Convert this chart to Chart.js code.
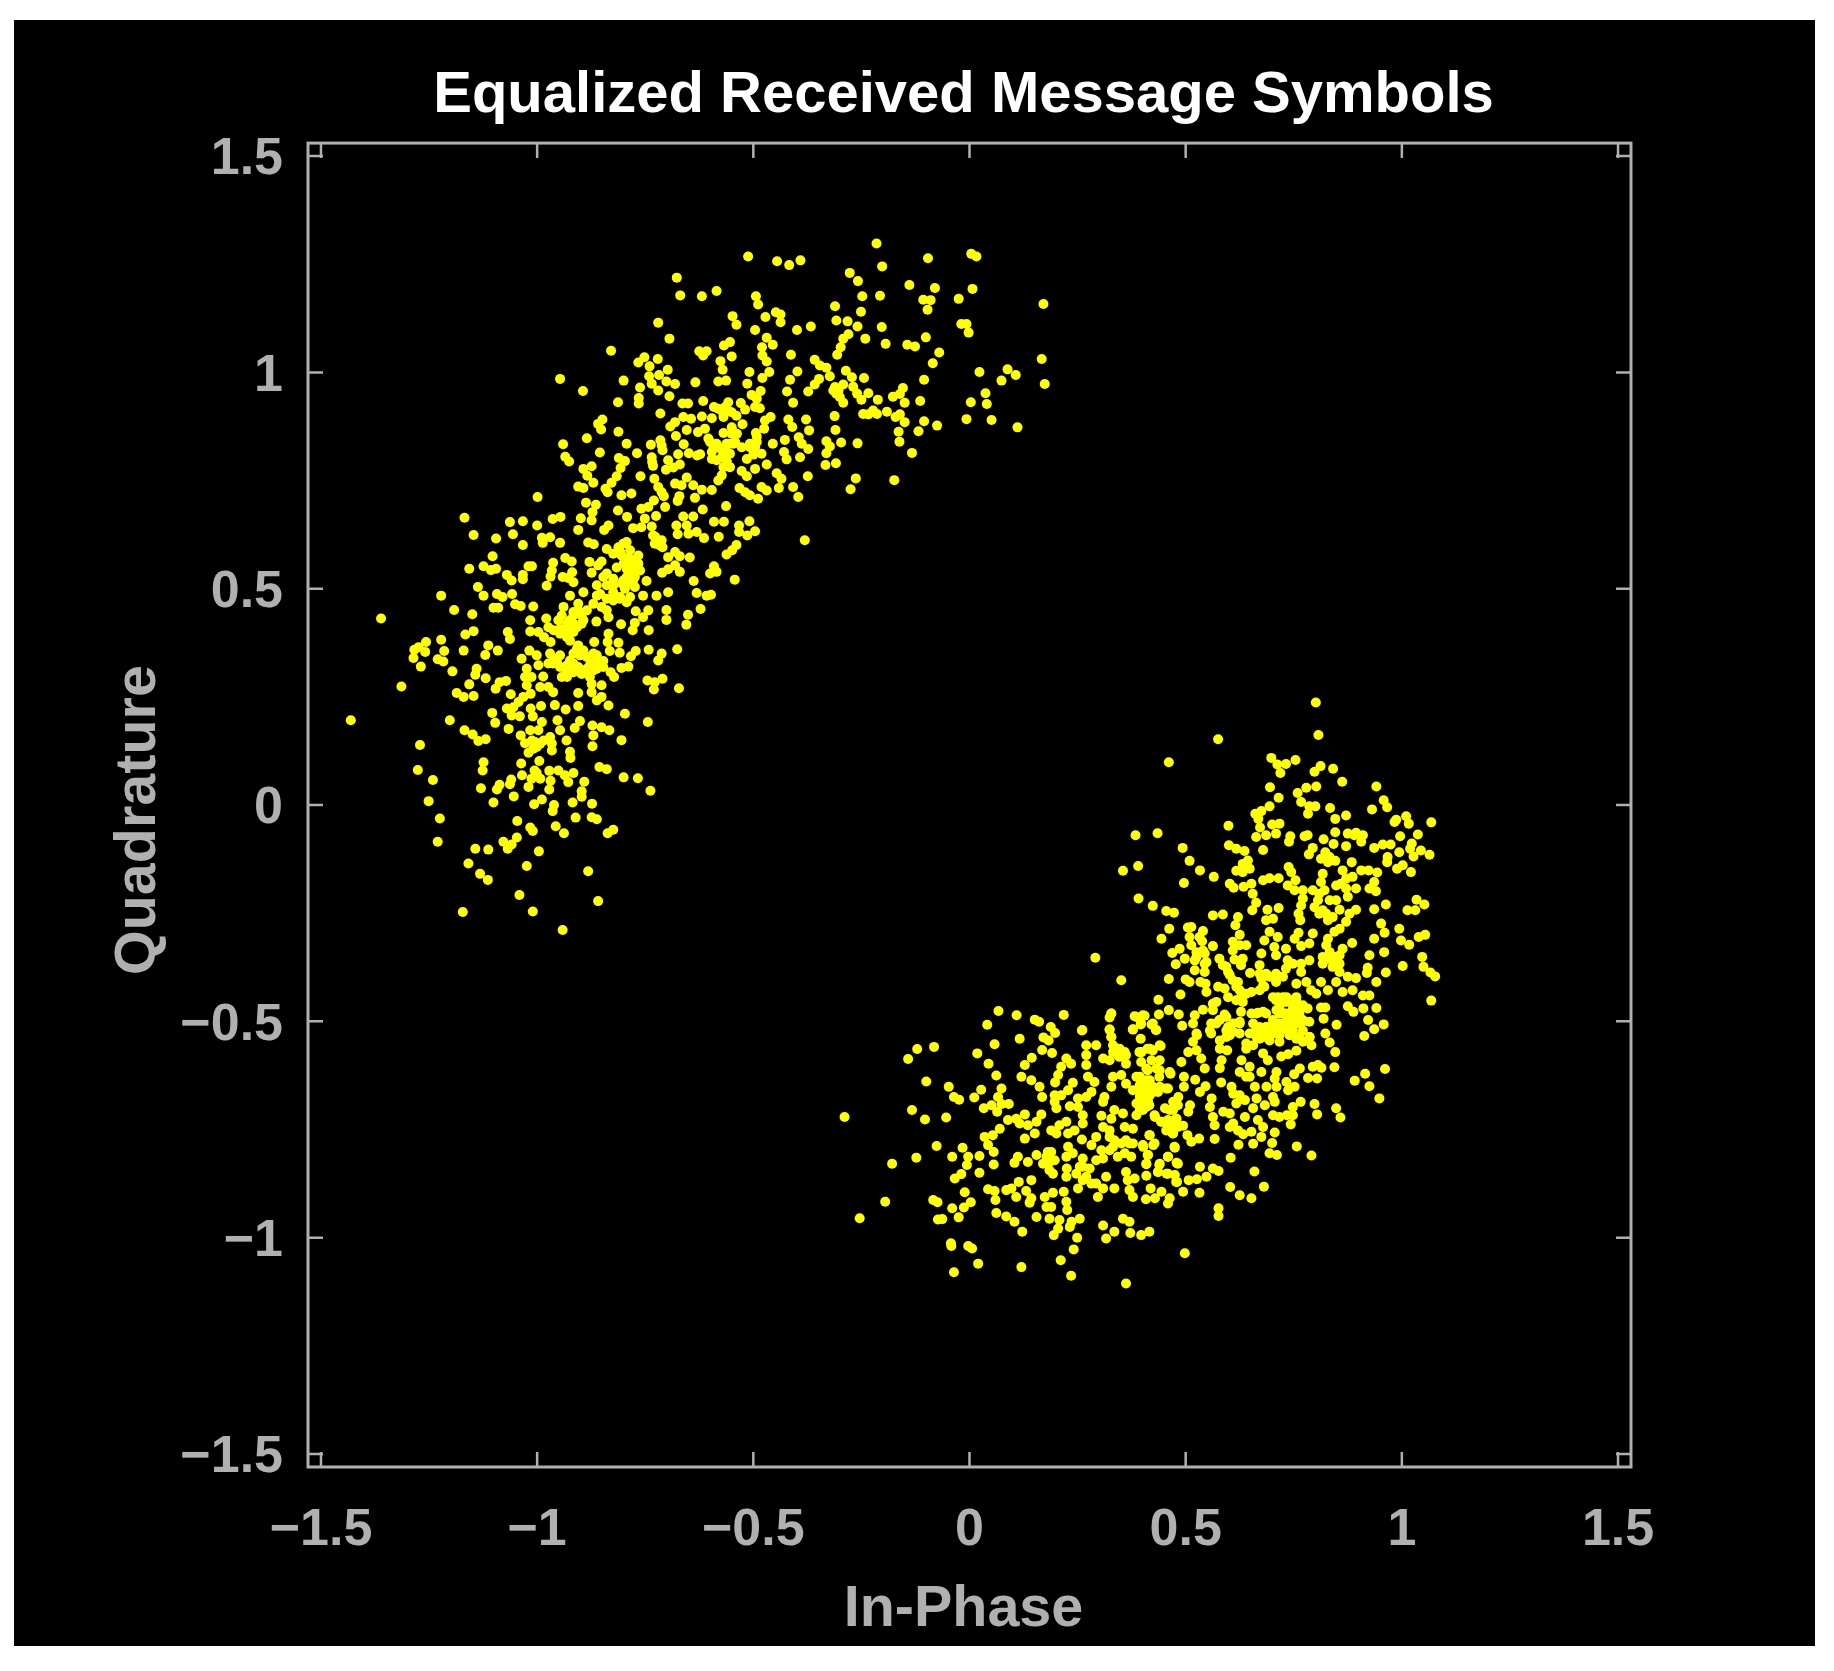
<!DOCTYPE html>
<html><head><meta charset="utf-8"><title>Equalized Received Message Symbols</title>
<script src="https://cdn.jsdelivr.net/npm/chart.js@4/dist/chart.umd.min.js"></script>
<style>html,body{margin:0;padding:0;background:#fff}canvas{display:block}</style></head>
<body><canvas id="c" width="1834" height="1671"></canvas>
<script>
const tickValues=[-1.5,-1,-0.5,0,0.5,1,1.5];
const axisLimit=1.53;
const titleText="Equalized Received Message Symbols";
const xLabel="In-Phase";
const yLabel="Quadrature";
const upperCluster=[
[-0.677,1.219],[-0.669,1.178],[-0.720,1.115],[-0.694,1.078],[-0.829,1.050],[-0.625,1.049],[-0.766,1.023],[-0.752,1.035],[-0.721,1.031],[-0.740,1.014],[-0.698,1.006],[-0.741,0.991],[-0.718,0.994],[-0.947,0.985],[-0.800,0.981],[-0.735,0.974],[-0.701,0.979],[-0.681,0.973],[-0.634,0.977],[-0.894,0.957],[-0.762,0.965],[-0.720,0.958],[-0.694,0.945],[-0.813,0.931],[-0.765,0.941],[-0.765,0.928],[-0.664,0.928],[-0.651,0.928],[-0.715,0.905],[-0.662,0.897],[-0.681,0.885],[-0.692,0.875],[-0.644,0.893],[-0.654,0.867],[-0.628,0.862],[-0.849,0.891],[-0.859,0.881],[-0.852,0.868],[-0.812,0.863],[-0.679,0.853],[-0.885,0.848],[-0.940,0.834],[-0.793,0.835],[-0.737,0.833],[-0.715,0.843],[-0.712,0.831],[-0.710,0.820],[-0.661,0.834],[-0.649,0.813],[-0.630,0.808],[-0.674,0.811],[-0.855,0.815],[-0.769,0.813],[-0.935,0.805],[-0.926,0.794],[-0.811,0.802],[-0.797,0.795],[-0.735,0.804],[-0.734,0.793],[-0.732,0.784],[-0.697,0.797],[-0.670,0.787],[-0.702,0.775],[-0.685,0.780],[-0.874,0.783],[-0.893,0.777],[-0.884,0.761],[-0.870,0.745],[-0.807,0.779],[-0.816,0.760],[-0.828,0.745],[-0.761,0.760],[-0.729,0.754],[-0.720,0.735],[-0.712,0.723],[-0.707,0.714],[-0.654,0.757],[-0.681,0.743],[-0.666,0.739],[-0.639,0.739],[-0.905,0.736],[-0.893,0.733],[-0.842,0.731],[-0.837,0.723],[-0.805,0.716],[-0.782,0.720],[-0.999,0.712],[-0.671,0.714],[-0.675,0.703],[-0.635,0.710],[-0.887,0.699],[-0.864,0.694],[-0.730,0.704],[-0.743,0.689],[-0.759,0.685],[-0.704,0.689],[-0.813,0.681],[-0.872,0.677],[-0.874,0.658],[-1.168,0.664],[-1.033,0.656],[-1.063,0.654],[-0.964,0.661],[-0.946,0.666],[-0.899,0.663],[-0.792,0.666],[-0.725,0.668],[-0.751,0.662],[-0.759,0.642],[-0.778,0.640],[-0.735,0.644],[-0.662,0.667],[-0.639,0.667],[-0.678,0.646],[-0.654,0.646],[-0.631,0.631],[-0.650,0.627],[-0.675,0.626],[-1.000,0.646],[-0.905,0.636],[-0.835,0.646],[-0.845,0.636],[-1.147,0.624],[-1.056,0.626],[-1.095,0.616],[-0.970,0.619],[-0.989,0.618],[-0.987,0.606],[-0.947,0.606],[-0.882,0.607],[-0.869,0.603],[-0.732,0.623],[-0.728,0.604],[-0.712,0.612],[-0.716,0.600],[-0.710,0.596],[-1.033,0.601],[-0.839,0.592],[-0.801,0.604],[-0.812,0.596],[-0.824,0.581],[-0.793,0.608],[-0.785,0.589],[-0.766,0.577],[-0.805,0.577],[-0.766,0.558],[-1.103,0.575],[-0.681,0.585],[-0.697,0.573],[-0.670,0.575],[-0.647,0.572],[-0.935,0.571],[-0.920,0.563],[-0.879,0.562],[-0.851,0.563],[-0.859,0.554],[-0.785,0.569],[-0.778,0.554],[-0.762,0.542],[-0.793,0.546],[-0.816,0.549],[-1.012,0.552],[-1.020,0.552],[-0.963,0.560],[-0.966,0.542],[-0.969,0.528],[-0.681,0.554],[-0.697,0.545],[-0.711,0.537],[-0.670,0.539],[-1.157,0.546],[-1.124,0.552],[-1.107,0.543],[-1.095,0.546],[-1.070,0.532],[-1.059,0.519],[-1.033,0.532],[-1.033,0.522],[-0.919,0.538],[-0.941,0.527],[-0.916,0.515],[-0.928,0.525],[-0.874,0.537],[-0.847,0.527],[-0.862,0.508],[-0.839,0.508],[-0.801,0.519],[-0.778,0.519],[-0.797,0.500],[-0.824,0.508],[-0.774,0.504],[-0.747,0.518],[-0.638,0.518],[-0.978,0.507],[-1.137,0.504],
[-1.222,0.484],[-1.124,0.484],[-1.093,0.488],[-1.080,0.481],[-1.058,0.488],[-0.924,0.484],[-0.893,0.492],[-0.862,0.484],[-0.839,0.477],[-0.809,0.477],[-0.793,0.469],[-0.824,0.492],[-0.755,0.484],[-0.724,0.484],[-0.697,0.492],[-0.631,0.490],[-1.192,0.451],[-1.150,0.441],[-1.101,0.456],[-1.090,0.456],[-1.051,0.464],[-1.038,0.460],[-1.009,0.459],[-0.939,0.458],[-0.943,0.438],[-0.951,0.427],[-0.905,0.465],[-0.916,0.446],[-0.893,0.427],[-0.924,0.427],[-0.901,0.446],[-0.870,0.465],[-0.885,0.450],[-0.851,0.458],[-0.835,0.434],[-0.772,0.448],[-0.743,0.450],[-0.755,0.434],[-0.701,0.451],[-0.701,0.428],[-0.651,0.440],[-0.655,0.417],[-1.361,0.431],[-1.016,0.427],[-0.979,0.431],[-0.974,0.411],[-0.863,0.424],[-0.806,0.418],[-0.774,0.421],[-0.779,0.404],[-0.742,0.404],[-1.147,0.402],[-1.166,0.394],[-1.068,0.400],[-1.063,0.384],[-1.016,0.401],[-0.997,0.400],[-0.984,0.388],[-0.969,0.377],[-0.947,0.407],[-0.932,0.396],[-0.916,0.400],[-0.897,0.419],[-0.924,0.380],[-0.835,0.396],[-0.837,0.377],[-0.812,0.375],[-1.222,0.382],[-1.257,0.377],[-1.274,0.365],[-1.284,0.359],[-1.259,0.354],[-1.286,0.340],[-1.215,0.356],[-1.230,0.337],[-1.217,0.332],[-1.170,0.357],[-1.113,0.369],[-1.120,0.347],[-1.091,0.357],[-1.269,0.320],[-1.196,0.309],[-1.018,0.357],[-1.036,0.338],[-1.001,0.346],[-0.997,0.323],[-0.970,0.350],[-0.963,0.327],[-0.947,0.346],[-0.974,0.327],[-0.932,0.311],[-0.905,0.369],[-0.916,0.350],[-0.893,0.357],[-0.924,0.334],[-0.905,0.319],[-0.885,0.315],[-0.870,0.350],[-0.862,0.334],[-0.870,0.311],[-0.847,0.333],[-0.943,0.296],[-0.868,0.377],[-0.832,0.356],[-0.809,0.352],[-0.772,0.356],[-0.783,0.344],[-0.742,0.359],[-0.712,0.350],[-0.720,0.334],[-0.676,0.360],[-1.140,0.315],[-1.143,0.301],[-1.119,0.293],[-1.024,0.315],[-1.028,0.296],[-1.013,0.296],[-0.986,0.297],[-0.830,0.307],[-0.822,0.296],[-0.805,0.317],[-0.789,0.320],[-0.878,0.296],[-0.874,0.280],[-0.851,0.277],[-0.745,0.288],[-0.728,0.284],[-0.710,0.292],[-0.730,0.267],[-0.672,0.270],[-1.314,0.274],[-1.157,0.279],[-1.087,0.284],[-1.072,0.287],[-1.096,0.269],[-1.024,0.277],[-0.993,0.273],[-0.974,0.273],[-0.963,0.261],[-1.061,0.256],[-1.186,0.259],[-1.170,0.250],[-1.147,0.252],[-1.032,0.250],[-1.015,0.257],[-1.043,0.238],[-1.070,0.223],[-1.055,0.226],[-1.059,0.207],[-1.040,0.205],[-0.905,0.259],[-0.874,0.261],[-0.862,0.242],[-0.851,0.250],[-0.835,0.230],[-0.991,0.229],[-1.015,0.223],[-1.010,0.205],[-0.959,0.231],[-0.934,0.221],[-0.905,0.229],[-0.797,0.211],[-1.104,0.213],[-1.097,0.190],[-1.202,0.196],[-1.431,0.196],[-0.744,0.192],[-0.953,0.196],[-0.947,0.173],[-0.901,0.194],[-0.913,0.178],[-0.989,0.192],[-0.997,0.173],[-1.016,0.173],[-1.066,0.176],[-1.168,0.173],[-1.149,0.163],[-1.136,0.148],[-1.119,0.152],[-0.872,0.184],[-0.851,0.180],[-0.833,0.173],[-0.870,0.161],[-0.872,0.136],[-1.038,0.161],[-1.028,0.143],[-0.970,0.157],[-0.966,0.126],[-0.966,0.142],[-0.932,0.149],[-0.805,0.150],[-1.005,0.146],[-0.993,0.142],[-1.020,0.121],[-1.009,0.130],[-1.271,0.139],[-0.924,0.123],[-0.923,0.109],[-1.124,0.099],[-1.126,0.080],[-0.995,0.102],[-1.037,0.096],[-1.276,0.081],[-0.856,0.088],[-0.839,0.083],[-1.006,0.080],[-1.013,0.061],[-0.993,0.061],[-1.001,0.074],[-0.972,0.079],[-0.951,0.080],[-0.936,0.069],[-0.916,0.074],[-0.928,0.053],[-1.035,0.069],[-0.800,0.064],[-0.767,0.062],[-1.241,0.058],[-1.060,0.059],[-1.063,0.048],[-0.969,0.056],[-0.972,0.036],[-0.891,0.054],[-1.020,0.042],[-1.087,0.047],[-1.093,0.036],[-1.130,0.039],[-0.738,0.033],[-0.897,0.032],[-0.897,0.019],[-1.054,0.020],[-0.989,0.013],[-1.007,0.002],[-1.251,0.009],[-1.101,0.006],[-0.918,0.006],[-0.873,0.003],[-0.961,0.000],[-0.964,-0.014],[-1.225,-0.031],[-0.911,-0.029],[-0.874,-0.028],[-0.862,-0.033],[-1.046,-0.037],[-1.016,-0.052],[-1.010,-0.060],[-0.957,-0.049],[-0.938,-0.065],[-0.824,-0.057],[-0.837,-0.065],[-1.230,-0.085],[-1.047,-0.075],[-1.059,-0.091],[-1.078,-0.085],[-1.068,-0.101],[-1.143,-0.101],[-1.113,-0.103],[-0.996,-0.107],[-1.159,-0.135],[-1.024,-0.141],[-0.882,-0.153],[-1.132,-0.159],[-1.114,-0.173],[-1.041,-0.208],[-0.859,-0.222],[-1.172,-0.247],[-1.010,-0.246],[-0.941,-0.289],
[-0.215,1.298],[-0.512,1.268],[-0.445,1.257],[-0.417,1.248],[-0.391,1.259],[-0.096,1.264],[0.004,1.274],[0.016,1.268],[-0.202,1.245],[-0.277,1.230],[-0.258,1.211],[-0.139,1.202],[-0.080,1.195],[0.007,1.193],[-0.585,1.188],[-0.619,1.176],[-0.494,1.176],[-0.489,1.157],[-0.248,1.176],[-0.207,1.177],[-0.025,1.170],[-0.107,1.168],[-0.090,1.167],[-0.097,1.145],[0.171,1.158],[-0.311,1.153],[-0.448,1.139],[-0.437,1.134],[-0.437,1.116],[-0.548,1.130],[-0.539,1.110],[-0.472,1.128],[-0.251,1.140],[-0.308,1.120],[-0.282,1.118],[-0.259,1.106],[-0.019,1.112],[-0.007,1.112],[-0.002,1.092],[-0.496,1.098],[-0.399,1.098],[-0.367,1.106],[-0.203,1.105],[-0.280,1.088],[-0.292,1.078],[-0.298,1.058],[-0.306,1.041],[-0.241,1.078],[-0.469,1.080],[-0.455,1.064],[-0.101,1.081],[-0.554,1.070],[-0.568,1.062],[-0.194,1.066],[-0.144,1.064],[-0.126,1.060],[-0.480,1.058],[-0.479,1.039],[-0.469,1.025],[-0.608,1.049],[-0.616,1.039],[-0.413,1.041],[-0.550,1.037],[-0.070,1.046],[0.167,1.031],[-0.358,1.029],[-0.346,1.016],[-0.331,1.011],[-0.323,0.991],[-0.576,1.026],[-0.571,1.006],[-0.085,1.021],[0.088,1.007],[0.107,0.994],[0.023,1.001],[-0.398,1.002],[-0.509,1.001],[-0.463,1.001],[-0.479,0.987],[-0.286,1.004],[-0.272,0.989],[-0.244,0.987],[-0.415,0.983],[-0.348,0.985],[-0.358,0.972],[-0.373,0.956],[-0.105,0.983],[-0.581,0.979],[-0.563,0.981],[-0.514,0.974],[0.074,0.981],[0.174,0.973],[-0.154,0.964],[-0.177,0.944],[-0.161,0.950],[-0.150,0.930],[-0.311,0.966],[-0.292,0.972],[-0.308,0.951],[-0.300,0.943],[-0.292,0.930],[-0.269,0.967],[-0.260,0.951],[-0.250,0.937],[-0.234,0.952],[-0.483,0.957],[-0.504,0.948],[-0.492,0.939],[-0.422,0.956],[0.037,0.952],[-0.212,0.937],[-0.114,0.934],[0.003,0.931],[0.040,0.927],[-0.408,0.930],[-0.616,0.934],[-0.558,0.931],[-0.591,0.920],[-0.573,0.912],[-0.550,0.908],[-0.539,0.900],[-0.569,0.897],[-0.529,0.929],[-0.519,0.914],[-0.496,0.920],[-0.485,0.917],[-0.246,0.904],[-0.234,0.903],[-0.223,0.912],[-0.214,0.904],[-0.191,0.909],[-0.161,0.903],[-0.171,0.897],[-0.150,0.885],[-0.312,0.899],[-0.619,0.898],[-0.596,0.894],[-0.460,0.897],[-0.473,0.889],[-0.419,0.891],[-0.410,0.874],[-0.378,0.891],[-0.105,0.887],[-0.007,0.892],[0.051,0.890],[-0.075,0.877],[-0.525,0.880],[-0.550,0.873],[-0.569,0.860],[-0.546,0.862],[-0.612,0.870],[-0.475,0.870],[0.111,0.873],[-0.310,0.867],[-0.371,0.866],[-0.164,0.863],[-0.118,0.864],[-0.494,0.860],[-0.492,0.839],[-0.508,0.827],[-0.395,0.850],[-0.388,0.835],[-0.600,0.839],[-0.585,0.835],[-0.596,0.816],[-0.562,0.835],[-0.546,0.835],[-0.527,0.827],[-0.427,0.844],[-0.455,0.835],[-0.331,0.841],[-0.323,0.829],[-0.331,0.813],[-0.297,0.838],[-0.259,0.836],[-0.162,0.840],[-0.373,0.823],[-0.392,0.804],[-0.429,0.816],[-0.423,0.799],[-0.133,0.814],[-0.623,0.811],[-0.481,0.812],[-0.500,0.810],[-0.515,0.800],[-0.569,0.804],[-0.554,0.812],[-0.596,0.800],[-0.333,0.786],[-0.309,0.790],[-0.469,0.787],[-0.446,0.767],[-0.435,0.754],[-0.569,0.781],[-0.554,0.781],[-0.573,0.762],[-0.581,0.750],[-0.496,0.777],[-0.527,0.772],[-0.515,0.760],[-0.374,0.760],[-0.263,0.755],[-0.174,0.751],[-0.408,0.735],[-0.396,0.712],[-0.275,0.730],[-0.441,0.733],[-0.596,0.728],[-0.619,0.729],[-0.532,0.733],[-0.519,0.723],[-0.508,0.716],[-0.489,0.708],[-0.481,0.735],[-0.469,0.727],[-0.563,0.691],[-0.617,0.683],[-0.591,0.655],[-0.568,0.655],[-0.509,0.656],[-0.533,0.646],[-0.533,0.631],[-0.496,0.633],[-0.514,0.623],[-0.580,0.620],[-0.614,0.617],[-0.381,0.612],[-0.539,0.601],[-0.549,0.589],[-0.562,0.579],[-0.591,0.552],[-0.600,0.535],[-0.585,0.539],[-0.543,0.521],[-0.608,0.484],[-0.598,0.486],[-0.622,0.453]
];
const upperCore=[
[-0.931,0.419],[-0.916,0.419],[-0.939,0.404],[-0.924,0.404],[-0.908,0.411],[-0.916,0.438],[-0.931,0.388],[-0.947,0.396],[-0.962,0.404],[-0.897,0.438],[-0.908,0.361],[-0.901,0.346],[-0.916,0.327],[-0.931,0.323],[-0.885,0.342],[-0.877,0.327],[-0.862,0.315],[-0.916,0.307],[-0.897,0.303],[-0.931,0.296],[-0.954,0.330],[-0.947,0.319],[-0.962,0.338],[-0.847,0.319],[-0.862,0.346],[-0.808,0.481],[-0.824,0.473],[-0.785,0.481],[-0.854,0.488],[-0.839,0.450],[-1.001,0.134],[-0.985,0.149],[-1.012,0.149],[-0.808,0.585],[-0.793,0.570],[-0.777,0.566],[-0.800,0.558],[-0.781,0.543],[-0.774,0.527],[-0.793,0.527],[-0.804,0.512],[-0.781,0.512],[-0.824,0.523],[-0.839,0.535],[-0.727,0.620],[-0.720,0.608],[-0.604,0.847],[-0.592,0.828],[-0.577,0.824],[-0.565,0.820],[-0.554,0.835],[-0.573,0.804],[-0.585,0.797],[-0.561,0.793],[-0.550,0.858],[-0.538,0.858],[-0.565,0.920],[-0.558,0.912],[-0.581,0.916],[-0.569,0.904],[-0.542,0.839],[-0.492,0.851],[-0.508,0.835],[-0.496,0.827],[-0.315,0.958],[-0.303,0.958]
];
const lowerCluster=[
[0.801,0.237],[0.807,0.162],[0.575,0.152],[0.461,0.099],[0.698,0.109],[0.712,0.094],[0.732,0.095],[0.754,0.104],[0.719,0.074],[0.812,0.090],[0.798,0.077],[0.841,0.084],[0.862,0.054],[0.695,0.041],[0.941,0.043],[0.802,0.043],[0.779,0.040],[0.759,0.028],[0.715,0.017],[0.767,0.007],[0.958,0.011],[0.966,-0.005],[0.694,-0.003],[0.675,-0.014],[0.661,-0.020],[0.668,-0.032],[0.800,-0.003],[0.786,-0.003],[0.783,-0.020],[0.834,-0.007],[0.931,-0.010],[0.846,-0.032],[0.871,-0.024],[0.987,-0.034],[1.010,-0.026],[1.016,-0.043],[0.983,-0.039],[1.068,-0.040],[0.599,-0.048],[0.700,-0.045],[0.717,-0.043],[0.672,-0.052],[0.846,-0.063],[0.435,-0.065],[0.384,-0.070],[0.686,-0.070],[0.709,-0.066],[0.663,-0.074],[0.742,-0.072],[0.739,-0.085],[0.775,-0.072],[0.782,-0.070],[0.875,-0.066],[0.894,-0.064],[0.910,-0.070],[0.906,-0.085],[0.890,-0.070],[0.996,-0.072],[1.037,-0.068],[0.819,-0.079],[0.842,-0.090],[0.871,-0.095],[0.936,-0.099],[0.956,-0.091],[0.974,-0.091],[1.023,-0.089],[1.019,-0.101],[0.600,-0.093],[0.617,-0.101],[0.636,-0.106],[0.493,-0.099],[0.679,-0.104],[0.794,-0.099],[0.785,-0.114],[0.994,-0.109],[1.044,-0.105],[1.064,-0.115],[1.027,-0.119],[0.823,-0.109],[0.813,-0.124],[0.829,-0.132],[0.846,-0.129],[0.833,-0.120],[0.967,-0.120],[0.966,-0.132],[0.509,-0.129],[0.644,-0.128],[0.632,-0.136],[0.617,-0.152],[0.632,-0.155],[0.648,-0.147],[0.390,-0.141],[1.002,-0.139],[0.989,-0.147],[1.021,-0.155],[0.884,-0.132],[0.863,-0.151],[0.906,-0.151],[0.923,-0.151],[0.943,-0.156],[0.355,-0.152],[0.533,-0.151],[0.738,-0.143],[0.744,-0.155],[0.565,-0.166],[0.817,-0.159],[0.813,-0.178],[0.821,-0.197],[0.679,-0.174],[0.694,-0.169],[0.715,-0.169],[0.496,-0.180],[0.602,-0.182],[0.611,-0.191],[0.634,-0.189],[0.652,-0.182],[0.754,-0.174],[0.736,-0.186],[0.752,-0.197],[0.771,-0.197],[0.871,-0.170],[0.859,-0.182],[0.848,-0.186],[0.886,-0.166],[0.894,-0.193],[0.875,-0.212],[0.871,-0.193],[0.936,-0.178],[0.925,-0.193],[0.940,-0.199],[0.794,-0.197],[0.655,-0.205],[0.663,-0.226],[0.654,-0.243],[0.391,-0.216],[0.771,-0.216],[0.767,-0.232],[0.806,-0.220],[0.798,-0.236],[0.817,-0.243],[0.848,-0.220],[0.856,-0.242],[1.034,-0.219],[1.052,-0.230],[1.013,-0.243],[1.031,-0.243],[0.963,-0.230],[0.936,-0.241],[0.424,-0.233],[0.455,-0.245],[0.473,-0.249],[0.689,-0.242],[0.715,-0.238],[0.563,-0.255],[0.586,-0.253],[0.894,-0.242],[0.879,-0.251],[0.871,-0.270],[0.840,-0.259],[0.825,-0.251],[0.761,-0.251],[0.765,-0.266],[0.621,-0.259],[0.615,-0.278],[0.686,-0.266],[0.702,-0.263],[0.952,-0.274],[0.960,-0.295],[0.505,-0.283],[0.513,-0.282],[0.540,-0.291],[0.532,-0.305],[0.538,-0.315],[0.462,-0.286],[0.994,-0.286],[0.856,-0.286],[0.844,-0.293],[0.829,-0.309],[0.825,-0.324],[0.694,-0.293],[0.761,-0.295],[0.752,-0.309],[0.794,-0.297],[0.786,-0.320],[0.767,-0.326],[0.625,-0.300],[1.054,-0.300],[1.039,-0.305],[0.444,-0.309],[0.682,-0.313],[0.713,-0.305],[0.705,-0.328],[0.709,-0.347],[0.732,-0.332],[0.936,-0.309],[0.998,-0.313],[1.017,-0.323],[0.509,-0.305],[0.513,-0.324],[0.525,-0.340],[0.544,-0.343],[0.609,-0.316],[0.625,-0.324],[0.640,-0.324],[0.609,-0.336],[0.885,-0.319],[0.563,-0.326],[0.578,-0.355],[0.863,-0.332],[0.848,-0.351],[0.856,-0.367],[0.829,-0.355],[0.817,-0.367],[0.840,-0.374],[0.486,-0.332],[0.469,-0.342],[0.959,-0.340],[0.291,-0.353],[0.925,-0.347],[1.047,-0.351],[0.675,-0.343],[0.671,-0.370],[0.498,-0.355],[0.521,-0.359],[0.548,-0.363],[0.521,-0.382],[0.544,-0.386],[0.613,-0.357],[0.632,-0.355],[0.628,-0.370],[0.477,-0.368],[0.736,-0.359],[0.748,-0.367],[0.786,-0.359],[0.767,-0.367],[1.002,-0.372],[1.050,-0.374],[0.921,-0.376],[0.919,-0.388],[0.649,-0.388],[0.963,-0.387],[1.066,-0.387],[1.077,-0.396],[0.594,-0.374],[0.602,-0.393],[0.621,-0.409],[0.625,-0.428],[0.732,-0.378],[0.725,-0.397],[0.709,-0.409],[0.686,-0.390],[0.675,-0.401],[0.682,-0.420],[0.767,-0.386],[0.756,-0.413],[0.779,-0.409],[0.790,-0.428],[0.856,-0.386],[0.875,-0.397],[0.894,-0.400],[0.351,-0.405],[0.461,-0.402],[0.500,-0.403],[0.509,-0.409],[0.534,-0.409],[0.546,-0.413],[0.941,-0.409],[0.813,-0.409],[0.829,-0.428],[0.848,-0.409],[0.575,-0.420],[0.590,-0.424],[0.548,-0.432],[0.652,-0.432],[0.671,-0.428],[0.863,-0.432],[0.886,-0.428],[0.910,-0.440],[0.925,-0.440],[0.488,-0.438],[0.598,-0.444],[0.617,-0.451],[0.632,-0.455],[0.628,-0.478],[0.713,-0.444],[0.732,-0.455],[0.756,-0.444],[0.717,-0.470],[0.748,-0.470],[0.771,-0.463],[0.802,-0.436],[0.437,-0.450],[1.068,-0.452],[0.571,-0.455],[0.563,-0.474],[0.875,-0.465],[0.888,-0.478],[0.911,-0.470],[0.941,-0.469],[0.813,-0.468],[0.823,-0.468],[0.782,-0.470],[0.328,-0.482],[0.324,-0.491],[0.438,-0.484],[0.461,-0.474],[0.484,-0.484],[0.386,-0.490],[0.405,-0.487],[0.396,-0.507],[0.540,-0.473],[0.521,-0.486],[0.590,-0.484],[0.652,-0.482],[0.667,-0.480],[0.686,-0.482],[0.819,-0.494],[0.922,-0.497],[0.958,-0.507],[0.849,-0.508],[0.421,-0.507],[0.431,-0.520],[0.492,-0.510],[0.517,-0.505],[0.525,-0.528],[0.378,-0.518],[0.324,-0.519],[0.328,-0.536],[0.261,-0.520],[0.936,-0.518],[0.823,-0.528],[0.913,-0.534],[0.396,-0.540],[0.559,-0.505],[0.559,-0.528],[0.578,-0.497],[0.598,-0.513],[0.602,-0.532],[0.625,-0.505],[0.625,-0.528],[0.663,-0.520],[0.686,-0.513],[0.671,-0.540],[0.702,-0.528],[0.732,-0.501],[0.721,-0.521],[0.748,-0.521],[0.767,-0.505],[0.786,-0.501],[0.763,-0.536],[0.786,-0.536],
[0.833,-0.549],[0.846,-0.571],[0.844,-0.606],[0.806,-0.601],[0.814,-0.607],[0.794,-0.605],[0.961,-0.610],[0.915,-0.621],[0.925,-0.650],[0.891,-0.637],[0.948,-0.678],[0.783,-0.631],[0.804,-0.632],[0.764,-0.609],[0.751,-0.622],[0.756,-0.568],[0.737,-0.576],[0.721,-0.581],[0.791,-0.555],[0.787,-0.536],[0.752,-0.651],[0.737,-0.659],[0.733,-0.640],[0.710,-0.617],[0.706,-0.632],[0.690,-0.590],[0.679,-0.574],[0.710,-0.651],[0.687,-0.651],[0.702,-0.675],[0.706,-0.686],[0.675,-0.617],[0.660,-0.651],[0.648,-0.628],[0.664,-0.678],[0.683,-0.694],[0.640,-0.551],[0.629,-0.590],[0.648,-0.605],[0.625,-0.617],[0.640,-0.628],[0.606,-0.651],[0.610,-0.667],[0.625,-0.671],[0.617,-0.690],[0.637,-0.682],[0.656,-0.701],[0.637,-0.721],[0.667,-0.728],[0.679,-0.744],[0.652,-0.755],[0.706,-0.757],[0.675,-0.767],[0.766,-0.686],[0.748,-0.698],[0.734,-0.717],[0.748,-0.717],[0.743,-0.738],[0.717,-0.721],[0.702,-0.717],[0.798,-0.691],[0.804,-0.715],[0.848,-0.701],[0.858,-0.722],[0.757,-0.789],[0.791,-0.810],[0.700,-0.781],[0.694,-0.805],[0.711,-0.809],[0.656,-0.783],[0.622,-0.785],[0.602,-0.744],[0.621,-0.752],[0.633,-0.761],[0.567,-0.772],[0.604,-0.815],[0.659,-0.847],[0.681,-0.882],[0.603,-0.883],[0.625,-0.902],[0.652,-0.909],[0.576,-0.932],[0.576,-0.950],[0.498,-1.036],[0.563,-0.840],[0.576,-0.846],[0.533,-0.836],[0.548,-0.859],[0.526,-0.865],[0.507,-0.867],[0.532,-0.896],[0.494,-0.894],[0.463,-0.909],[0.459,-0.921],[0.444,-0.894],[0.429,-0.909],[0.408,-0.911],[0.419,-0.886],[0.409,-0.857],[0.475,-0.855],[0.480,-0.871],[0.440,-0.829],[0.436,-0.848],[0.459,-0.813],[0.479,-0.827],[0.456,-0.852],[0.409,-0.829],[0.413,-0.809],[0.475,-0.792],[0.417,-0.763],[0.425,-0.786],[0.402,-0.790],[0.504,-0.763],[0.513,-0.778],[0.531,-0.771],[0.471,-0.759],[0.459,-0.744],[0.494,-0.741],[0.452,-0.701],[0.471,-0.686],[0.483,-0.675],[0.510,-0.694],[0.506,-0.709],[0.471,-0.705],[0.479,-0.725],[0.429,-0.721],[0.444,-0.732],[0.533,-0.663],[0.546,-0.650],[0.560,-0.678],[0.556,-0.698],[0.563,-0.721],[0.567,-0.740],[0.587,-0.709],[0.602,-0.713],[0.610,-0.736],[0.582,-0.641],[0.496,-0.628],[0.496,-0.651],[0.522,-0.635],[0.465,-0.621],[0.544,-0.609],[0.536,-0.586],[0.525,-0.567],[0.506,-0.571],[0.490,-0.594],[0.579,-0.563],[0.583,-0.590],[0.579,-0.608],[0.596,-0.567],[0.526,-0.532],[0.517,-0.547],[0.440,-0.555],[0.417,-0.563],[0.398,-0.571],[0.421,-0.590],[0.440,-0.590],[0.409,-0.609],[0.440,-0.613],[0.394,-0.628],[0.417,-0.636],[0.440,-0.651],[0.459,-0.655],[0.402,-0.667],[0.417,-0.671],[0.398,-0.690],[0.409,-0.698],
[0.067,-0.476],[0.109,-0.486],[0.218,-0.485],[0.151,-0.496],[0.161,-0.501],[0.041,-0.508],[0.188,-0.513],[0.198,-0.527],[0.260,-0.521],[0.328,-0.482],[0.324,-0.519],[0.382,-0.488],[0.401,-0.486],[0.378,-0.519],[0.397,-0.505],[0.424,-0.505],[0.432,-0.520],[0.116,-0.540],[0.171,-0.537],[0.183,-0.544],[0.328,-0.536],[0.332,-0.555],[0.270,-0.555],[0.293,-0.555],[0.058,-0.553],[-0.082,-0.559],[-0.121,-0.564],[-0.142,-0.587],[0.018,-0.574],[0.168,-0.566],[0.191,-0.573],[0.442,-0.557],[0.424,-0.567],[0.393,-0.571],[0.412,-0.563],[0.309,-0.586],[0.324,-0.590],[0.339,-0.563],[0.359,-0.571],[0.362,-0.598],[0.347,-0.582],[0.144,-0.584],[0.128,-0.601],[0.120,-0.628],[0.224,-0.586],[0.235,-0.598],[0.212,-0.605],[0.205,-0.624],[0.198,-0.641],[0.270,-0.578],[0.270,-0.601],[0.274,-0.628],[0.289,-0.640],[0.044,-0.598],[0.397,-0.594],[0.412,-0.613],[0.432,-0.609],[0.463,-0.617],[0.062,-0.625],[0.143,-0.636],[0.162,-0.651],[0.168,-0.675],[0.332,-0.628],[0.328,-0.651],[0.351,-0.624],[0.362,-0.644],[0.386,-0.628],[0.393,-0.651],[0.409,-0.636],[0.439,-0.628],[-0.100,-0.639],[-0.048,-0.651],[0.027,-0.658],[0.074,-0.655],[0.066,-0.675],[0.074,-0.691],[0.239,-0.642],[0.228,-0.659],[0.212,-0.671],[0.270,-0.675],[0.282,-0.663],[0.251,-0.678],[0.455,-0.655],[0.436,-0.663],[0.412,-0.671],[0.393,-0.686],[0.416,-0.694],[0.401,-0.705],[0.386,-0.717],[-0.036,-0.675],[-0.024,-0.681],[0.011,-0.676],[0.197,-0.671],[0.197,-0.686],[0.201,-0.701],[0.312,-0.675],[0.309,-0.686],[0.091,-0.691],[0.051,-0.694],[0.033,-0.701],[0.064,-0.709],[-0.133,-0.705],[-0.289,-0.721],[0.232,-0.696],[0.251,-0.698],[0.262,-0.717],[0.262,-0.736],[0.243,-0.752],[0.228,-0.759],[-0.103,-0.727],[-0.054,-0.722],[0.089,-0.728],[0.108,-0.725],[0.128,-0.715],[0.116,-0.736],[0.166,-0.715],[0.155,-0.732],[0.135,-0.740],[0.151,-0.759],[0.128,-0.771],[0.305,-0.718],[0.335,-0.705],[0.355,-0.713],[0.328,-0.725],[0.309,-0.744],[0.324,-0.752],[0.335,-0.775],[0.324,-0.798],[0.428,-0.717],[0.443,-0.732],[0.459,-0.728],[0.455,-0.752],[0.470,-0.759],[0.482,-0.694],[0.224,-0.732],[0.208,-0.740],[0.189,-0.752],[0.201,-0.759],[0.378,-0.748],[0.359,-0.744],[0.362,-0.775],[0.378,-0.782],[0.359,-0.805],[0.374,-0.813],[0.343,-0.813],[0.070,-0.748],[0.054,-0.763],[0.035,-0.767],[0.043,-0.786],[0.056,-0.802],[0.260,-0.773],[0.293,-0.767],[0.282,-0.786],[0.305,-0.798],[0.416,-0.763],[0.428,-0.782],[0.401,-0.786],[-0.076,-0.788],[-0.016,-0.792],[0.474,-0.790],[0.228,-0.790],[0.224,-0.813],[0.239,-0.805],[-0.040,-0.813],[0.023,-0.811],[-0.123,-0.815],[-0.179,-0.829],[-0.003,-0.813],[-0.006,-0.832],[0.412,-0.809],[0.409,-0.830],[0.112,-0.813],[0.104,-0.827],[0.135,-0.825],[0.155,-0.809],[0.181,-0.802],[0.170,-0.829],[0.197,-0.821],[0.185,-0.844],[0.193,-0.852],[0.262,-0.817],[0.255,-0.836],[0.278,-0.840],[0.293,-0.821],[0.309,-0.817],[0.056,-0.831],[0.459,-0.813],[0.439,-0.832],[0.436,-0.848],[0.459,-0.852],[0.478,-0.871],[0.482,-0.829],[0.225,-0.840],[0.224,-0.859],[0.247,-0.852],[0.262,-0.867],[0.251,-0.886],[0.023,-0.850],[-0.019,-0.853],[-0.034,-0.863],[0.362,-0.848],[0.366,-0.867],[0.382,-0.863],[0.316,-0.859],[0.335,-0.886],[0.143,-0.867],[0.114,-0.871],[0.097,-0.886],[0.085,-0.890],[0.293,-0.875],[0.309,-0.886],[0.297,-0.906],[0.043,-0.888],[0.058,-0.892],[0.060,-0.913],[-0.011,-0.895],[0.131,-0.892],[0.143,-0.909],[0.139,-0.919],[0.108,-0.906],[0.218,-0.894],[0.193,-0.896],[0.174,-0.906],[0.178,-0.929],[0.189,-0.929],[0.370,-0.890],[0.378,-0.906],[-0.084,-0.913],[-0.074,-0.918],[-0.195,-0.917],[0.224,-0.917],[0.226,-0.936],[0.003,-0.918],[-0.013,-0.930],[-0.040,-0.932],[0.062,-0.943],[-0.254,-0.955],[-0.025,-0.953],[-0.073,-0.958],[-0.063,-0.957],[0.085,-0.951],[0.104,-0.963],[0.155,-0.952],[0.185,-0.956],[0.208,-0.959],[0.205,-0.979],[0.195,-0.994],[0.255,-0.956],[0.236,-0.963],[0.232,-0.975],[0.355,-0.956],[0.370,-0.963],[0.309,-0.972],[0.122,-0.986],[0.335,-0.986],[0.372,-0.989],[0.416,-0.986],[0.397,-0.994],[0.316,-1.002],[0.249,-1.000],[-0.043,-1.013],[-0.042,-1.019],[-0.003,-1.019],[0.006,-1.025],[0.241,-1.027],[0.211,-1.052],[0.020,-1.060],[0.120,-1.068],[-0.036,-1.080],[0.235,-1.088],[0.362,-1.106]
];
const lowerCore=[
[0.709,-0.451],[0.725,-0.444],[0.740,-0.451],[0.756,-0.455],[0.717,-0.482],[0.732,-0.482],[0.748,-0.490],[0.709,-0.513],[0.725,-0.505],[0.740,-0.513],[0.763,-0.482],[0.702,-0.497],[0.686,-0.528],[0.717,-0.532],[0.740,-0.532],[0.756,-0.505],[0.671,-0.520],[0.648,-0.528],[0.694,-0.544],[0.833,-0.220],[0.809,-0.205],[0.809,-0.251],[0.829,-0.266],[0.525,-0.351],[0.540,-0.336],[0.586,-0.370],[0.598,-0.386],[0.609,-0.405],[0.544,-0.367],[0.817,-0.351],[0.833,-0.340],[0.840,-0.359],[0.856,-0.347],[0.671,-0.390],[0.694,-0.397],[0.709,-0.390],[0.702,-0.444],[0.717,-0.451],[0.733,-0.444],[0.748,-0.451],[0.764,-0.467],[0.710,-0.474],[0.725,-0.482],[0.741,-0.490],[0.756,-0.490],[0.771,-0.497],[0.702,-0.505],[0.717,-0.505],[0.733,-0.513],[0.748,-0.505],[0.771,-0.521],[0.664,-0.482],[0.679,-0.478],[0.656,-0.505],[0.671,-0.513],[0.687,-0.513],[0.702,-0.528],[0.664,-0.536],[0.679,-0.536],[0.717,-0.547],[0.756,-0.540],[0.771,-0.547],[0.640,-0.563],[0.656,-0.555],[0.579,-0.497],[0.594,-0.490],[0.610,-0.505],[0.594,-0.521],[0.579,-0.544],[0.594,-0.536],[0.610,-0.524],[0.625,-0.501],[0.625,-0.447],[0.640,-0.436],[0.679,-0.417],[0.617,-0.420],[0.563,-0.459],[0.571,-0.505],[0.556,-0.521],[0.394,-0.647],[0.410,-0.655],[0.425,-0.663],[0.394,-0.674],[0.413,-0.685],[0.394,-0.705],[0.378,-0.659],[0.397,-0.659],[0.405,-0.678],[0.386,-0.690],[0.424,-0.651],[0.463,-0.705],[0.474,-0.728],[0.463,-0.744],[0.482,-0.744],[0.332,-0.571],[0.343,-0.578],[0.362,-0.578],[0.347,-0.563],[0.370,-0.782],[0.351,-0.782],[0.332,-0.790],[0.324,-0.767],[0.262,-0.836],[0.270,-0.859],[0.282,-0.875],[0.178,-0.813],[0.185,-0.825],[0.189,-0.802]
];
const toPoints=list=>list.map(([x,y])=>({x,y}));
const GRAY="#b0b0b0";
const frame={
  id:"frame",
  beforeDraw(chart){
    const c=chart.ctx;
    c.save();c.fillStyle="#000";c.fillRect(14,20,1801,1626);c.restore();
    chart.scales.y.getLabelItems().forEach(it=>{it.options.translation=[it.options.translation[0],it.options.translation[1]+4]});
  },
  afterLayout(chart){
    chart.titleBlock.left-=6;chart.titleBlock.right-=6;
    chart.scales.x.left-=6;chart.scales.x.right-=6;
    chart.scales.y.top+=15;chart.scales.y.bottom+=15;
  },
  afterDatasetsDraw(chart){
    const {ctx:c,chartArea:a,scales}=chart;
    c.save();c.strokeStyle=GRAY;c.lineWidth=3;
    c.strokeRect(a.left,a.top,a.right-a.left,a.bottom-a.top);
    c.lineWidth=2.5;c.beginPath();
    const L=15;
    for(const v of tickValues){
      const px=scales.x.getPixelForValue(v),py=scales.y.getPixelForValue(v);
      c.moveTo(px,a.bottom);c.lineTo(px,a.bottom-L);
      c.moveTo(px,a.top);c.lineTo(px,a.top+L);
      c.moveTo(a.left,py);c.lineTo(a.left+L,py);
      c.moveTo(a.right,py);c.lineTo(a.right-L,py);
    }
    c.stroke();c.restore();
  }
};
const fmt=v=>String(v).replace("-","\u2212");
const labelFont={family:"'Liberation Sans'",size:57.5,weight:"bold"};
const tickFont={family:"'Liberation Sans'",size:52,weight:"bold"};
new Chart(document.getElementById("c"),{
  type:"scatter",
  data:{datasets:[{label:"Symbols",data:toPoints([...upperCluster,...upperCore,...lowerCluster,...lowerCore]),backgroundColor:"#ffff00",borderWidth:0,pointRadius:5,pointHoverRadius:5}]},
  plugins:[frame],
  options:{
    responsive:false,animation:false,
    layout:{padding:{left:0,right:203,top:0,bottom:0}},
    plugins:{
      legend:{display:false},tooltip:{enabled:false},
      title:{display:true,text:titleText,color:"#fff",fullSize:false,font:{family:"'Liberation Sans'",size:58,weight:"bold"},padding:{top:61,bottom:12.5}}
    },
    scales:{
      x:{type:"linear",min:-axisLimit,max:axisLimit,
        afterBuildTicks:s=>{s.ticks=tickValues.map(value=>({value}))},
        afterFit:s=>{s.height=204},
        grid:{display:false},border:{display:false},
        ticks:{color:GRAY,font:tickFont,padding:24,maxRotation:0,autoSkip:false,callback:fmt},
        title:{display:true,text:xLabel,color:GRAY,font:labelFont,padding:{top:0,bottom:26}}},
      y:{type:"linear",min:-axisLimit,max:axisLimit,
        afterBuildTicks:s=>{s.ticks=tickValues.map(value=>({value}))},
        afterFit:s=>{s.width=308},
        grid:{display:false},border:{display:false},
        ticks:{color:GRAY,font:tickFont,padding:17,autoSkip:false,callback:fmt},
        title:{display:true,text:yLabel,color:GRAY,font:labelFont,padding:{top:105,bottom:0}}}
    }
  }
});
</script></body></html>
